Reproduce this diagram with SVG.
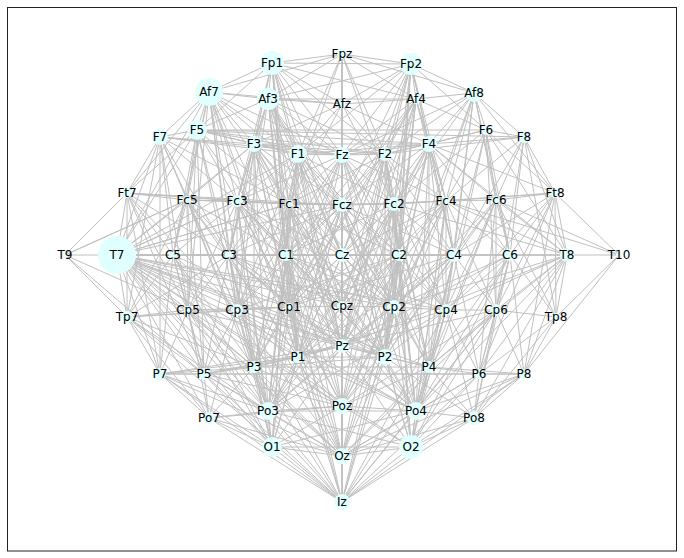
<svg xmlns="http://www.w3.org/2000/svg" width="684" height="558" viewBox="0 0 684 558">
<style>
.e{fill:none;stroke:#c0c0c0;stroke-width:1}
.n circle{fill:#e0ffff}
.n text{font-family:"DejaVu Sans","Liberation Sans",sans-serif;font-size:12px;fill:#000;text-anchor:middle;dominant-baseline:central}
</style>
<rect x="0" y="0" width="684" height="558" fill="#fff"/>
<rect x="7.5" y="7.5" width="669" height="543.5" fill="none" stroke="#222" stroke-width="1"/>
<g id="connectors">
<path class="e" id="e-Fp1" d="M272 63 342 54M272 63 209 92M272 63 268 99M272 63 411 64M272 63 416 99M272 63 298 154M272 63 342 155M272 63 254 144M272 63 197 130M272 63 289 204M272 63 342 205M272 63 286 255M272 63 342 255M272 63 237 201M272 63 385 154M272 63 342 104M272 63 229 255M272 63 289 307M272 63 342 346M272 63 298 357"/>
<path class="e" id="e-Fpz" d="M342 54 411 64M342 54 342 104M342 54 268 99M342 54 416 99M342 54 298 154M342 54 342 155M342 54 385 154M342 54 342 205M342 54 289 204M342 54 394 204M342 54 209 92M342 54 474 93M342 54 342 255"/>
<path class="e" id="e-Fp2" d="M411 64 474 93M411 64 416 99M411 64 268 99M411 64 342 104M411 64 385 154M411 64 429 144M411 64 298 154M411 64 342 155M411 64 394 204M411 64 342 205M411 64 399 255M411 64 342 255M411 64 486 130M411 64 446 201M411 64 454 255M411 64 394 307M411 64 342 346M411 64 385 357"/>
<path class="e" id="e-Af7" d="M209 92 268 99M209 92 160 137M209 92 197 130M209 92 254 144M209 92 127 193M209 92 187 200M209 92 237 201M209 92 173 255M209 92 229 255M209 92 289 204M209 92 298 154M209 92 342 155M209 92 286 255M209 92 237 310M209 92 188 310M209 92 342 104M209 92 117 255M209 92 342 205M209 92 254 367M209 92 289 307M209 92 298 357"/>
<path class="e" id="e-Af3" d="M268 99 342 104M268 99 197 130M268 99 254 144M268 99 298 154M268 99 342 155M268 99 237 201M268 99 289 204M268 99 229 255M268 99 286 255M268 99 342 255M268 99 342 205M268 99 385 154M268 99 289 307M268 99 237 310M268 99 416 99M268 99 394 307M268 99 342 306M268 99 342 346M268 99 298 357"/>
<path class="e" id="e-Afz" d="M342 104 416 99M342 104 298 154M342 104 342 155M342 104 385 154M342 104 342 205M342 104 289 204M342 104 394 204M342 104 254 144M342 104 429 144M342 104 342 255M342 104 342 306"/>
<path class="e" id="e-Af4" d="M416 99 474 93M416 99 385 154M416 99 429 144M416 99 342 155M416 99 394 204M416 99 446 201M416 99 399 255M416 99 454 255M416 99 486 130M416 99 342 205M416 99 394 307M416 99 289 307M416 99 342 306M416 99 342 346M416 99 385 357M416 99 286 255"/>
<path class="e" id="e-Af8" d="M474 93 429 144M474 93 486 130M474 93 524 137M474 93 446 201M474 93 496 200M474 93 454 255M474 93 510 255M474 93 385 154M474 93 394 204M474 93 555 193M474 93 446 310M474 93 342 155M474 93 394 307M474 93 385 357"/>
<path class="e" id="e-F7" d="M160 137 197 130M160 137 127 193M160 137 187 200M160 137 117 255M160 137 173 255M160 137 237 201M160 137 254 144M160 137 229 255M160 137 188 310M160 137 160 374M160 137 298 154M160 137 342 155M160 137 289 204M160 137 237 310M160 137 127 317"/>
<path class="e" id="e-F5" d="M197 130 254 144M197 130 187 200M197 130 237 201M197 130 173 255M197 130 229 255M197 130 127 193M197 130 117 255M197 130 298 154M197 130 342 155M197 130 385 154M197 130 429 144M197 130 486 130M197 130 524 137M197 130 289 204M197 130 237 310M197 130 188 310M197 130 204 374M197 130 286 255"/>
<path class="e" id="e-F3" d="M254 144 298 154M254 144 237 201M254 144 289 204M254 144 229 255M254 144 286 255M254 144 342 155M254 144 342 205M254 144 342 255M254 144 289 307M254 144 237 310M254 144 254 367M254 144 117 255M254 144 187 200M254 144 385 154M254 144 429 144M254 144 342 306M254 144 394 307M254 144 298 357M254 144 342 346M254 144 268 411"/>
<path class="e" id="e-F1" d="M298 154 342 155M298 154 385 154M298 154 289 204M298 154 342 205M298 154 286 255M298 154 342 255M298 154 237 201M298 154 229 255M298 154 289 307M298 154 342 306M298 154 298 357M298 154 342 346M298 154 394 204M298 154 399 255M298 154 429 144M298 154 117 255M298 154 237 310M298 154 254 367M298 154 394 307M298 154 385 357M298 154 342 406M298 154 268 411"/>
<path class="e" id="e-Fz" d="M342 155 385 154M342 155 342 205M342 155 289 204M342 155 394 204M342 155 342 255M342 155 286 255M342 155 399 255M342 155 342 306M342 155 342 346M342 155 342 406M342 155 429 144M342 155 237 201M342 155 446 201M342 155 289 307M342 155 394 307M342 155 237 310M342 155 446 310M342 155 254 367M342 155 429 367M342 155 298 357M342 155 385 357M342 155 342 456"/>
<path class="e" id="e-F2" d="M385 154 429 144M385 154 394 204M385 154 342 205M385 154 446 201M385 154 399 255M385 154 342 255M385 154 454 255M385 154 394 307M385 154 342 306M385 154 385 357M385 154 342 346M385 154 289 204M385 154 286 255M385 154 486 130M385 154 524 137M385 154 289 307M385 154 298 357M385 154 446 310M385 154 429 367M385 154 342 406M385 154 416 411"/>
<path class="e" id="e-F4" d="M429 144 486 130M429 144 524 137M429 144 446 201M429 144 394 204M429 144 496 200M429 144 454 255M429 144 399 255M429 144 342 255M429 144 510 255M429 144 446 310M429 144 394 307M429 144 429 367M429 144 567 255M429 144 555 193M429 144 342 205M429 144 342 346M429 144 385 357M429 144 342 306M429 144 416 411"/>
<path class="e" id="e-F6" d="M486 130 524 137M486 130 496 200M486 130 446 201M486 130 510 255M486 130 454 255M486 130 555 193M486 130 567 255M486 130 496 310M486 130 446 310M486 130 394 204"/>
<path class="e" id="e-F8" d="M524 137 555 193M524 137 496 200M524 137 510 255M524 137 567 255M524 137 446 201M524 137 454 255M524 137 496 310M524 137 556 317"/>
<path class="e" id="e-Ft7" d="M127 193 187 200M127 193 117 255M127 193 173 255M127 193 65 255M127 193 127 317M127 193 237 201M127 193 229 255M127 193 188 310M127 193 160 374M127 193 237 310M127 193 289 204M127 193 342 205M127 193 204 374"/>
<path class="e" id="e-Fc5" d="M187 200 237 201M187 200 173 255M187 200 117 255M187 200 229 255M187 200 188 310M187 200 237 310M187 200 65 255M187 200 289 204M187 200 342 205M187 200 204 374M187 200 254 367M187 200 127 317M187 200 286 255M187 200 289 307M187 200 298 357M187 200 268 411"/>
<path class="e" id="e-Fc3" d="M237 201 289 204M237 201 229 255M237 201 286 255M237 201 342 255M237 201 237 310M237 201 289 307M237 201 117 255M237 201 173 255M237 201 254 367M237 201 298 357M237 201 342 205M237 201 342 306M237 201 188 310M237 201 342 346M237 201 268 411M237 201 342 406M237 201 272 447M237 201 394 307M237 201 385 357"/>
<path class="e" id="e-Fc1" d="M289 204 342 205M289 204 286 255M289 204 342 255M289 204 289 307M289 204 342 306M289 204 229 255M289 204 237 310M289 204 298 357M289 204 342 346M289 204 394 204M289 204 399 255M289 204 117 255M289 204 254 367M289 204 268 411M289 204 342 406M289 204 272 447M289 204 342 456M289 204 394 307M289 204 385 357M289 204 416 411"/>
<path class="e" id="e-Fcz" d="M342 205 394 204M342 205 342 255M342 205 286 255M342 205 399 255M342 205 342 306M342 205 289 307M342 205 394 307M342 205 342 346M342 205 298 357M342 205 385 357M342 205 342 406M342 205 446 201M342 205 229 255M342 205 454 255M342 205 268 411M342 205 416 411M342 205 272 447M342 205 411 447M342 205 342 456M342 205 237 310M342 205 446 310M342 205 254 367M342 205 429 367"/>
<path class="e" id="e-Fc2" d="M394 204 446 201M394 204 399 255M394 204 342 255M394 204 454 255M394 204 394 307M394 204 342 306M394 204 385 357M394 204 342 346M394 204 446 310M394 204 429 367M394 204 286 255M394 204 567 255M394 204 416 411M394 204 342 406M394 204 411 447M394 204 342 456M394 204 289 307M394 204 298 357M394 204 268 411"/>
<path class="e" id="e-Fc4" d="M446 201 496 200M446 201 454 255M446 201 399 255M446 201 510 255M446 201 446 310M446 201 394 307M446 201 429 367M446 201 385 357M446 201 342 255M446 201 567 255M446 201 555 193M446 201 619 255M446 201 496 310M446 201 416 411M446 201 342 406M446 201 411 447M446 201 342 306M446 201 342 346M446 201 289 307"/>
<path class="e" id="e-Fc6" d="M496 200 555 193M496 200 510 255M496 200 454 255M496 200 567 255M496 200 496 310M496 200 446 310M496 200 479 374M496 200 429 367M496 200 619 255M496 200 556 317M496 200 394 307M496 200 385 357M496 200 416 411"/>
<path class="e" id="e-Ft8" d="M555 193 567 255M555 193 619 255M555 193 510 255M555 193 454 255M555 193 556 317M555 193 496 310M555 193 524 374M555 193 479 374M555 193 446 310M555 193 394 204"/>
<path class="e" id="e-T9" d="M65 255 117 255M65 255 127 317M65 255 188 310M65 255 204 374M65 255 187 200"/>
<path class="e" id="e-T7" d="M117 255 173 255M117 255 229 255M117 255 286 255M117 255 342 255M117 255 127 317M117 255 188 310M117 255 237 310M117 255 289 307M117 255 160 374M117 255 204 374M117 255 254 367M117 255 298 357M117 255 342 346M117 255 237 201M117 255 289 204M117 255 399 255M117 255 342 306M117 255 209 418M117 255 268 411M117 255 342 205M117 255 394 307M117 255 342 406M117 255 272 447M117 255 342 456M117 255 342 502M117 255 454 255M117 255 446 310M117 255 385 357M117 255 416 411M117 255 411 447M117 255 429 367"/>
<path class="e" id="e-C5" d="M173 255 229 255M173 255 188 310M173 255 237 310M173 255 127 317M173 255 160 374M173 255 204 374M173 255 254 367M173 255 286 255M173 255 289 307M173 255 268 411M173 255 272 447"/>
<path class="e" id="e-C3" d="M229 255 286 255M229 255 342 255M229 255 237 310M229 255 289 307M229 255 342 306M229 255 254 367M229 255 298 357M229 255 342 346M229 255 188 310M229 255 204 374M229 255 268 411M229 255 399 255M229 255 416 411M229 255 385 357M229 255 342 456M229 255 272 447M229 255 394 307"/>
<path class="e" id="e-C1" d="M286 255 342 255M286 255 289 307M286 255 342 306M286 255 298 357M286 255 342 346M286 255 254 367M286 255 237 310M286 255 399 255M286 255 394 307M286 255 342 406M286 255 268 411M286 255 342 502M286 255 272 447M286 255 342 456M286 255 416 411M286 255 385 357M286 255 446 310"/>
<path class="e" id="e-Cz" d="M342 255 399 255M342 255 454 255M342 255 342 306M342 255 289 307M342 255 394 307M342 255 342 346M342 255 298 357M342 255 385 357M342 255 342 406M342 255 342 456M342 255 510 255"/>
<path class="e" id="e-C2" d="M399 255 454 255M399 255 394 307M399 255 342 306M399 255 385 357M399 255 342 346M399 255 446 310M399 255 429 367M399 255 416 411M399 255 342 406M399 255 289 307M399 255 342 502M399 255 411 447M399 255 342 456M399 255 268 411M399 255 298 357M399 255 237 310"/>
<path class="e" id="e-C4" d="M454 255 510 255M454 255 446 310M454 255 394 307M454 255 429 367M454 255 385 357M454 255 496 310M454 255 479 374M454 255 567 255M454 255 416 411M454 255 342 346M454 255 411 447M454 255 268 411M454 255 342 406M454 255 298 357M454 255 289 307"/>
<path class="e" id="e-C6" d="M510 255 567 255M510 255 496 310M510 255 446 310M510 255 479 374M510 255 524 374M510 255 556 317M510 255 429 367M510 255 474 418M510 255 394 307M510 255 416 411M510 255 411 447M510 255 342 346"/>
<path class="e" id="e-T8" d="M567 255 619 255M567 255 556 317M567 255 496 310M567 255 524 374M567 255 479 374M567 255 446 310M567 255 474 418M567 255 394 307M567 255 429 367M567 255 416 411M567 255 399 255M567 255 342 346"/>
<path class="e" id="e-T10" d="M619 255 556 317M619 255 524 374"/>
<path class="e" id="e-Tp7" d="M127 317 188 310M127 317 160 374M127 317 204 374M127 317 237 310M127 317 254 367M127 317 209 418M127 317 229 255M127 317 289 307M127 317 268 411M127 317 342 502"/>
<path class="e" id="e-Cp5" d="M188 310 237 310M188 310 160 374M188 310 204 374M188 310 254 367M188 310 209 418M188 310 289 307M188 310 268 411M188 310 272 447M188 310 342 346M188 310 342 406M188 310 342 456"/>
<path class="e" id="e-Cp3" d="M237 310 289 307M237 310 254 367M237 310 204 374M237 310 298 357M237 310 268 411M237 310 209 418M237 310 342 346M237 310 272 447M237 310 342 406M237 310 342 456M237 310 342 502M237 310 385 357M237 310 416 411"/>
<path class="e" id="e-Cp1" d="M289 307 342 306M289 307 298 357M289 307 254 367M289 307 342 346M289 307 268 411M289 307 342 406M289 307 342 456M289 307 272 447M289 307 385 357M289 307 342 502"/>
<path class="e" id="e-Cpz" d="M342 306 394 307M342 306 342 346M342 306 298 357M342 306 385 357M342 306 342 406M342 306 342 456M342 306 268 411M342 306 416 411M342 306 342 502"/>
<path class="e" id="e-Cp2" d="M394 307 446 310M394 307 385 357M394 307 429 367M394 307 342 346M394 307 416 411M394 307 342 406M394 307 411 447M394 307 342 456M394 307 342 502"/>
<path class="e" id="e-Cp4" d="M446 310 496 310M446 310 429 367M446 310 479 374M446 310 416 411M446 310 474 418M446 310 385 357M446 310 411 447M446 310 342 502M446 310 298 357M446 310 268 411"/>
<path class="e" id="e-Cp6" d="M496 310 556 317M496 310 479 374M496 310 524 374M496 310 474 418M496 310 429 367M496 310 416 411M496 310 411 447M496 310 342 502M496 310 342 346M496 310 342 406M496 310 342 456"/>
<path class="e" id="e-Tp8" d="M556 317 524 374M556 317 479 374M556 317 474 418"/>
<path class="e" id="e-P7" d="M160 374 204 374M160 374 209 418M160 374 254 367M160 374 268 411M160 374 272 447M160 374 342 456M160 374 342 502M160 374 298 357M160 374 342 346M160 374 524 374"/>
<path class="e" id="e-P5" d="M204 374 254 367M204 374 209 418M204 374 268 411M204 374 272 447M204 374 342 456M204 374 342 502M204 374 298 357M204 374 342 346M204 374 342 406M204 374 479 374"/>
<path class="e" id="e-P3" d="M254 367 298 357M254 367 268 411M254 367 209 418M254 367 272 447M254 367 342 456M254 367 342 502M254 367 342 346M254 367 342 406M254 367 385 357M254 367 429 367"/>
<path class="e" id="e-P1" d="M298 357 342 346M298 357 268 411M298 357 342 406M298 357 272 447M298 357 342 456M298 357 342 502M298 357 385 357M298 357 416 411"/>
<path class="e" id="e-Pz" d="M342 346 385 357M342 346 342 406M342 346 342 456M342 346 342 502M342 346 268 411M342 346 416 411M342 346 272 447M342 346 411 447M342 346 429 367"/>
<path class="e" id="e-P2" d="M385 357 429 367M385 357 416 411M385 357 342 406M385 357 411 447M385 357 342 456M385 357 342 502M385 357 474 418"/>
<path class="e" id="e-P4" d="M429 367 479 374M429 367 416 411M429 367 474 418M429 367 411 447M429 367 342 456M429 367 342 502M429 367 342 406M429 367 524 374"/>
<path class="e" id="e-P6" d="M479 374 524 374M479 374 474 418M479 374 416 411M479 374 411 447M479 374 342 456M479 374 342 502"/>
<path class="e" id="e-P8" d="M524 374 474 418M524 374 416 411M524 374 411 447M524 374 342 456M524 374 342 502"/>
<path class="e" id="e-Po7" d="M209 418 268 411M209 418 272 447M209 418 342 456M209 418 342 502M209 418 342 406"/>
<path class="e" id="e-Po3" d="M268 411 272 447M268 411 342 456M268 411 342 502M268 411 342 406M268 411 416 411M268 411 411 447"/>
<path class="e" id="e-Poz" d="M342 406 342 456M342 406 342 502M342 406 416 411M342 406 272 447M342 406 411 447"/>
<path class="e" id="e-Po4" d="M416 411 411 447M416 411 342 456M416 411 342 502M416 411 474 418M416 411 272 447"/>
<path class="e" id="e-Po8" d="M474 418 411 447M474 418 342 456M474 418 342 502"/>
<path class="e" id="e-O" d="M272 447 342 456M272 447 342 502M272 447 411 447M342 456 342 502M342 456 411 447M411 447 342 502"/>
</g>
<g id="n-Fp1" class="n"><circle cx="272" cy="63" r="12"/><text x="272" y="63">Fp1</text></g>
<g id="n-Fpz" class="n"><circle cx="342" cy="54" r="5"/><text x="342" y="54">Fpz</text></g>
<g id="n-Fp2" class="n"><circle cx="411" cy="64" r="11"/><text x="411" y="64">Fp2</text></g>
<g id="n-Af7" class="n"><circle cx="209" cy="92" r="14"/><text x="209" y="92">Af7</text></g>
<g id="n-Af3" class="n"><circle cx="268" cy="99" r="11"/><text x="268" y="99">Af3</text></g>
<g id="n-Afz" class="n"><circle cx="342" cy="104" r="4"/><text x="342" y="104">Afz</text></g>
<g id="n-Af4" class="n"><circle cx="416" cy="99" r="5"/><text x="416" y="99">Af4</text></g>
<g id="n-Af8" class="n"><circle cx="474" cy="93" r="9"/><text x="474" y="93">Af8</text></g>
<g id="n-F7" class="n"><circle cx="160" cy="137" r="8"/><text x="160" y="137">F7</text></g>
<g id="n-F5" class="n"><circle cx="197" cy="130" r="10"/><text x="197" y="130">F5</text></g>
<g id="n-F3" class="n"><circle cx="254" cy="144" r="8"/><text x="254" y="144">F3</text></g>
<g id="n-F1" class="n"><circle cx="298" cy="154" r="9"/><text x="298" y="154">F1</text></g>
<g id="n-Fz" class="n"><circle cx="342" cy="155" r="8"/><text x="342" y="155">Fz</text></g>
<g id="n-F2" class="n"><circle cx="385" cy="154" r="7"/><text x="385" y="154">F2</text></g>
<g id="n-F4" class="n"><circle cx="429" cy="144" r="8"/><text x="429" y="144">F4</text></g>
<g id="n-F6" class="n"><circle cx="486" cy="130" r="5"/><text x="486" y="130">F6</text></g>
<g id="n-F8" class="n"><circle cx="524" cy="137" r="6"/><text x="524" y="137">F8</text></g>
<g id="n-Ft7" class="n"><circle cx="127" cy="193" r="5"/><text x="127" y="193">Ft7</text></g>
<g id="n-Fc5" class="n"><circle cx="187" cy="200" r="4"/><text x="187" y="200">Fc5</text></g>
<g id="n-Fc3" class="n"><circle cx="237" cy="201" r="6"/><text x="237" y="201">Fc3</text></g>
<g id="n-Fc1" class="n"><circle cx="289" cy="204" r="4"/><text x="289" y="204">Fc1</text></g>
<g id="n-Fcz" class="n"><circle cx="342" cy="205" r="7"/><text x="342" y="205">Fcz</text></g>
<g id="n-Fc2" class="n"><circle cx="394" cy="204" r="7"/><text x="394" y="204">Fc2</text></g>
<g id="n-Fc4" class="n"><circle cx="446" cy="201" r="4"/><text x="446" y="201">Fc4</text></g>
<g id="n-Fc6" class="n"><circle cx="496" cy="200" r="4"/><text x="496" y="200">Fc6</text></g>
<g id="n-Ft8" class="n"><circle cx="555" cy="193" r="5"/><text x="555" y="193">Ft8</text></g>
<g id="n-T9" class="n"><circle cx="65" cy="255" r="3"/><text x="65" y="255">T9</text></g>
<g id="n-T7" class="n"><circle cx="117" cy="255" r="19"/><text x="117" y="255">T7</text></g>
<g id="n-C5" class="n"><circle cx="173" cy="255" r="4"/><text x="173" y="255">C5</text></g>
<g id="n-C3" class="n"><circle cx="229" cy="255" r="4"/><text x="229" y="255">C3</text></g>
<g id="n-C1" class="n"><circle cx="286" cy="255" r="6"/><text x="286" y="255">C1</text></g>
<g id="n-Cz" class="n"><circle cx="342" cy="255" r="7"/><text x="342" y="255">Cz</text></g>
<g id="n-C2" class="n"><circle cx="399" cy="255" r="6"/><text x="399" y="255">C2</text></g>
<g id="n-C4" class="n"><circle cx="454" cy="255" r="7"/><text x="454" y="255">C4</text></g>
<g id="n-C6" class="n"><circle cx="510" cy="255" r="6"/><text x="510" y="255">C6</text></g>
<g id="n-T8" class="n"><circle cx="567" cy="255" r="7"/><text x="567" y="255">T8</text></g>
<g id="n-T10" class="n"><circle cx="619" cy="255" r="3"/><text x="619" y="255">T10</text></g>
<g id="n-Tp7" class="n"><circle cx="127" cy="317" r="6"/><text x="127" y="317">Tp7</text></g>
<g id="n-Cp5" class="n"><circle cx="188" cy="310" r="4"/><text x="188" y="310">Cp5</text></g>
<g id="n-Cp3" class="n"><circle cx="237" cy="310" r="6"/><text x="237" y="310">Cp3</text></g>
<g id="n-Cp1" class="n"><circle cx="289" cy="307" r="4"/><text x="289" y="307">Cp1</text></g>
<g id="n-Cpz" class="n"><circle cx="342" cy="306" r="5"/><text x="342" y="306">Cpz</text></g>
<g id="n-Cp2" class="n"><circle cx="394" cy="307" r="7"/><text x="394" y="307">Cp2</text></g>
<g id="n-Cp4" class="n"><circle cx="446" cy="310" r="6"/><text x="446" y="310">Cp4</text></g>
<g id="n-Cp6" class="n"><circle cx="496" cy="310" r="6"/><text x="496" y="310">Cp6</text></g>
<g id="n-Tp8" class="n"><circle cx="556" cy="317" r="4"/><text x="556" y="317">Tp8</text></g>
<g id="n-P7" class="n"><circle cx="160" cy="374" r="6"/><text x="160" y="374">P7</text></g>
<g id="n-P5" class="n"><circle cx="204" cy="374" r="6"/><text x="204" y="374">P5</text></g>
<g id="n-P3" class="n"><circle cx="254" cy="367" r="6"/><text x="254" y="367">P3</text></g>
<g id="n-P1" class="n"><circle cx="298" cy="357" r="6"/><text x="298" y="357">P1</text></g>
<g id="n-Pz" class="n"><circle cx="342" cy="346" r="7"/><text x="342" y="346">Pz</text></g>
<g id="n-P2" class="n"><circle cx="385" cy="357" r="8"/><text x="385" y="357">P2</text></g>
<g id="n-P4" class="n"><circle cx="429" cy="367" r="6"/><text x="429" y="367">P4</text></g>
<g id="n-P6" class="n"><circle cx="479" cy="374" r="5"/><text x="479" y="374">P6</text></g>
<g id="n-P8" class="n"><circle cx="524" cy="374" r="5"/><text x="524" y="374">P8</text></g>
<g id="n-Po7" class="n"><circle cx="209" cy="418" r="6"/><text x="209" y="418">Po7</text></g>
<g id="n-Po3" class="n"><circle cx="268" cy="411" r="9"/><text x="268" y="411">Po3</text></g>
<g id="n-Poz" class="n"><circle cx="342" cy="406" r="8"/><text x="342" y="406">Poz</text></g>
<g id="n-Po4" class="n"><circle cx="416" cy="411" r="9"/><text x="416" y="411">Po4</text></g>
<g id="n-Po8" class="n"><circle cx="474" cy="418" r="7"/><text x="474" y="418">Po8</text></g>
<g id="n-O1" class="n"><circle cx="272" cy="447" r="10"/><text x="272" y="447">O1</text></g>
<g id="n-Oz" class="n"><circle cx="342" cy="456" r="8"/><text x="342" y="456">Oz</text></g>
<g id="n-O2" class="n"><circle cx="411" cy="447" r="12"/><text x="411" y="447">O2</text></g>
<g id="n-Iz" class="n"><circle cx="342" cy="502" r="8"/><text x="342" y="502">Iz</text></g>
</svg>
